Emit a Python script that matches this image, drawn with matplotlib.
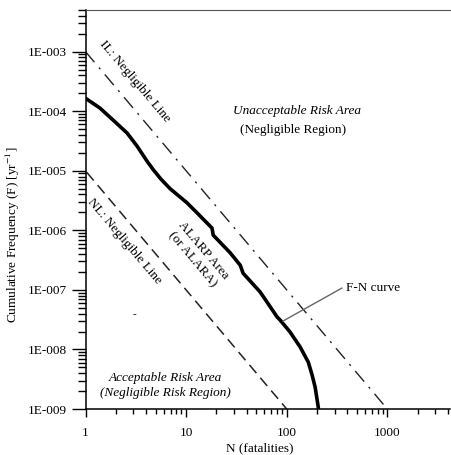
import matplotlib
matplotlib.use("Agg")
import matplotlib.pyplot as plt
from matplotlib.ticker import LogLocator, FuncFormatter, NullFormatter
import numpy as np

plt.rcParams['font.family'] = ['Liberation Serif', 'DejaVu Serif']
plt.rcParams['mathtext.fontset'] = 'stix'

# F-N curve (N fatalities, cumulative frequency per year)
fn_n = [1.0, 1.39, 1.88, 2.59, 3.25, 4.09, 4.70, 5.6, 6.93, 10.2, 12.9, 18.1, 18.6,
        27.4, 34.5, 36.9, 54.5, 80.4, 86.2, 108, 136, 164, 179, 192, 206, 206]
fn_f = [1.65e-4, 1.13e-4, 7.1e-5, 4.3e-5, 2.6e-5, 1.45e-5, 1.05e-5, 7.3e-6, 5.0e-6,
        2.9e-6, 1.95e-6, 1.09e-6, 8.3e-7, 4.2e-7, 2.6e-7, 1.9e-7, 9.2e-8, 3.5e-8,
        3.1e-8, 1.96e-8, 1.1e-8, 6.1e-9, 3.7e-9, 2.3e-9, 1.07e-9, 1.0e-9]

# criterion lines
il_n = [1, 1000]
il_f = [1e-3, 1e-9]
nl_n = [1.03, 100]
nl_f = [9.4e-6, 1e-9]

x_ticks = [1, 10, 100, 1000]
x_labels = ["1", "10", "100", "1000"]
y_ticks = [1e-9, 1e-8, 1e-7, 1e-6, 1e-5, 1e-4, 1e-3]
y_labels = ["1E-009", "1E-008", "1E-007", "1E-006", "1E-005", "1E-004", "1E-003"]

fig = plt.figure(figsize=(4.51, 4.55), dpi=100)
ax = fig.add_axes([85.5 / 451, 46 / 455, 364.5 / 451, 399 / 455])

ax.plot(fn_n, fn_f, color='black', lw=2.6)
ax.plot(il_n, il_f, color='#222222', lw=1.0, linestyle=(0, (10, 5, 1.5, 5)))
ax.plot(nl_n, nl_f, color='#222222', lw=1.1, linestyle=(0, (7, 4)))

ax.set_xscale('log')
ax.set_yscale('log')
ax.set_xlim(1, 4200)
ax.set_ylim(1e-9, 5e-3)

ax.set_xticks(x_ticks)
ax.set_xticklabels(x_labels)
ax.xaxis.set_minor_locator(LogLocator(base=10, subs=np.arange(2, 10)))
ax.xaxis.set_minor_formatter(NullFormatter())
ax.set_yticks(y_ticks)
ax.set_yticklabels(y_labels)
ax.yaxis.set_minor_locator(LogLocator(base=10, subs=np.arange(2, 10), numticks=20))
ax.yaxis.set_minor_formatter(NullFormatter())

ax.tick_params(axis='x', which='major', direction='out', length=5.8, width=1, pad=7, labelsize=9.5)
ax.tick_params(axis='x', which='minor', direction='out', length=3.6, width=1)
ax.tick_params(axis='y', which='major', direction='out', length=10, width=1, pad=3.5, labelsize=9.5)
ax.tick_params(axis='y', which='minor', direction='out', length=5.5, width=1)

ax.spines['right'].set_visible(False)
ax.spines['top'].set_color('#555555')
ax.spines['top'].set_linewidth(0.8)
for s in ['left', 'bottom']:
    ax.spines[s].set_linewidth(1.1)

ax.set_xlabel("N (fatalities)", fontsize=9.5)
ax.xaxis.set_label_coords(0.479, -0.083)
ax.set_ylabel("Cumulative Frequency (F) [yr$^{-1}$]", fontsize=9.5)
ax.yaxis.set_label_coords(-0.175, 0.436)

rot = -np.degrees(np.arctan(2 * 59.55 / 100.67))
ax.text(3.1, 3.2e-4, "IL: Negligible Line", rotation=rot, rotation_mode='anchor',
        ha='center', va='center', fontsize=9.5)
ax.text(2.44, 6.5e-7, "NL: Negligible Line", rotation=rot, rotation_mode='anchor',
        ha='center', va='center', fontsize=9.5)
ax.text(13.1, 3.9e-7, "ALARP Area\n(or ALARA)", rotation=rot, rotation_mode='anchor',
        ha='center', va='center', fontsize=9.5, linespacing=1.3)

ax.text(0.580, 0.747, "Unacceptable Risk Area", transform=ax.transAxes,
        ha='center', va='center', fontsize=9.5, style='italic')
ax.text(0.569, 0.699, "(Negligible Region)", transform=ax.transAxes,
        ha='center', va='center', fontsize=9.5)
ax.text(0.218, 0.078, "Acceptable Risk Area", transform=ax.transAxes,
        ha='center', va='center', fontsize=9.5, style='italic')
ax.text(0.218, 0.040, "(Negligible Risk Region)", transform=ax.transAxes,
        ha='center', va='center', fontsize=9.5, style='italic')

ax.plot([92, 353], [3.0e-8, 1.07e-7], color='#666666', lw=1.0)
ax.text(387, 1.07e-7, "F-N curve", ha='left', va='center', fontsize=9.5)
ax.text(3.1, 3.9e-8, "-", ha='center', va='center', fontsize=8)

fig.savefig("out.png", dpi=100)
